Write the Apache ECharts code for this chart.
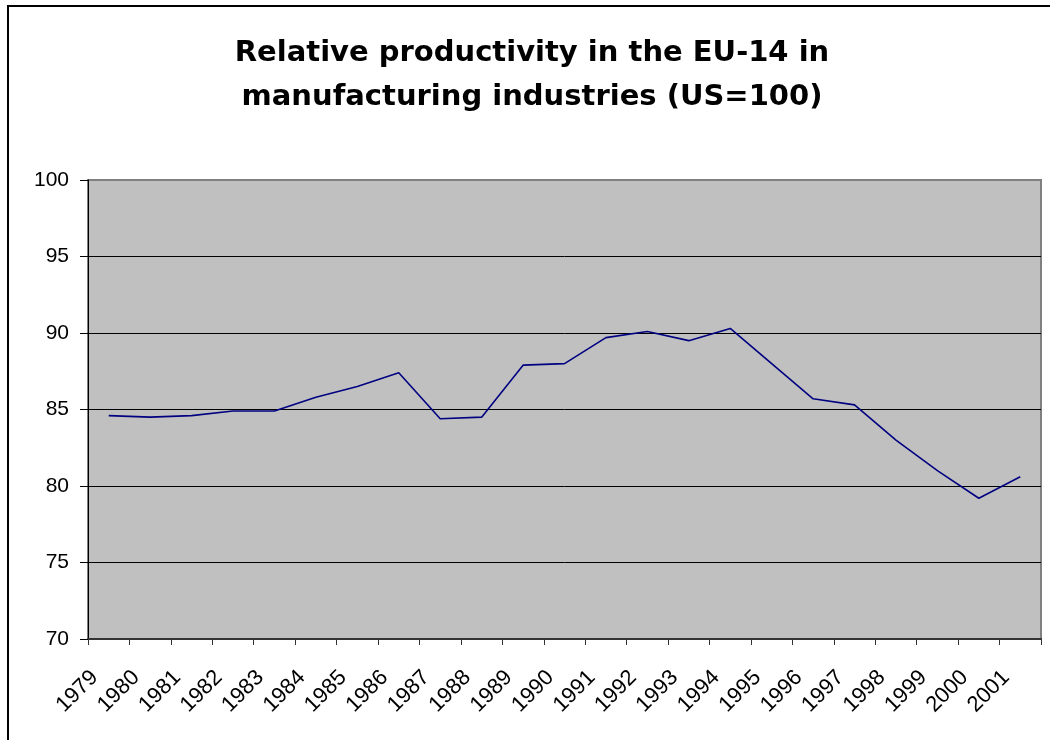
<!DOCTYPE html>
<html>
<head>
<meta charset="utf-8">
<script src="https://cdn.jsdelivr.net/npm/echarts@6/dist/echarts.min.js"></script>
<style>
  html, body { margin: 0; padding: 0; background: #fff; }
  #chart { width: 1050px; height: 740px; }
</style>
</head>
<body>
<div id="chart"></div>
<script>
// years on the x axis
var years = ['1979', '1980', '1981', '1982', '1983', '1984', '1985', '1986', '1987', '1988', '1989', '1990',
    '1991', '1992', '1993', '1994', '1995', '1996', '1997', '1998', '1999', '2000', '2001'];
// EU-14 productivity, US = 100
var productivity = [84.6, 84.5, 84.6, 84.9, 84.9, 85.8, 86.5, 87.4, 84.4, 84.5, 87.9, 88.0,
    89.7, 90.1, 89.5, 90.3, 88.0, 85.7, 85.3, 83.0, 81.0, 79.2, 80.6];
var yMin = 70, yMax = 100, yStep = 5;

var chart = echarts.init(document.getElementById('chart'));
var option = {
    backgroundColor: '#fff',
    animation: false,
    title: {
        text: 'Relative productivity in the EU-14 in\nmanufacturing industries (US=100)',
        left: 527,
        top: 26,
        textAlign: 'center',
        textStyle: {
            fontFamily: 'DejaVu Sans',
            fontWeight: 'bold',
            fontSize: 29,
            lineHeight: 44,
            color: '#000'
        }
    },
    // outer frame, cut off on the right and bottom like the picture
    graphic: [{
        type: 'rect',
        shape: { x: 8, y: 6, width: 1200, height: 900 },
        style: { fill: 'none', stroke: '#000', lineWidth: 2 },
        silent: true
    }],
    grid: {
        left: 88,
        right: 9,
        top: 180,
        bottom: 101,
        show: true,
        backgroundColor: '#c0c0c0',
        borderColor: '#808080',
        borderWidth: 2
    },
    xAxis: {
        type: 'category',
        data: years,
        boundaryGap: true,
        axisLine: { lineStyle: { color: '#333', width: 2 } },
        axisTick: { show: true, length: 6, lineStyle: { color: '#333' } },
        axisLabel: {
            rotate: 45,
            interval: 0,
            margin: 21,
            padding: [0, 20, 0, 0],
            fontFamily: 'Liberation Sans',
            fontSize: 22,
            color: '#000'
        },
        splitLine: { show: false }
    },
    yAxis: {
        type: 'value',
        min: yMin,
        max: yMax,
        interval: yStep,
        axisLine: { show: true, lineStyle: { color: '#000', width: 1 } },
        axisTick: { show: true, length: 8, lineStyle: { color: '#000' } },
        axisLabel: {
            margin: 19,
            fontFamily: 'Liberation Sans',
            fontSize: 21,
            color: '#000'
        },
        splitLine: { show: true, showMaxLine: false, lineStyle: { color: '#000', width: 1 } }
    },
    series: [{
        type: 'line',
        data: productivity,
        symbol: 'none',
        lineStyle: { color: '#000080', width: 1.6 }
    }]
};
chart.setOption(option);
</script>
</body>
</html>
